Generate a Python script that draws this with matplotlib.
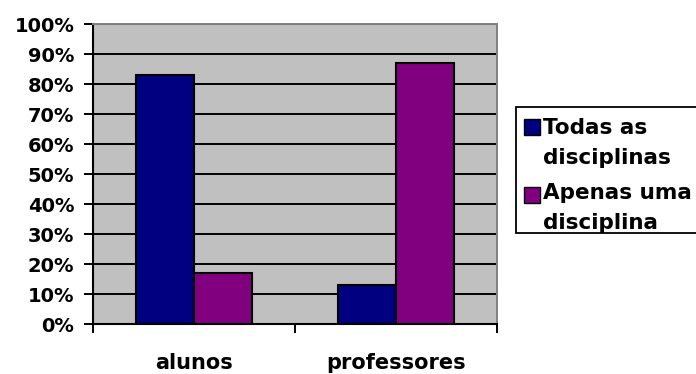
import matplotlib
matplotlib.use("Agg")
import matplotlib.pyplot as plt
from matplotlib.patches import Rectangle
from matplotlib.ticker import FuncFormatter, FixedLocator
import numpy as np

# Data
categories = ["alunos", "professores"]
series_names = ["Todas as\ndisciplinas", "Apenas uma\ndisciplina"]
todas_as_disciplinas = [83, 13]
apenas_uma_disciplina = [17, 87]
y_ticks = list(range(0, 101, 10))

series_values = [todas_as_disciplinas, apenas_uma_disciplina]
colors = ["#000080", "#800080"]

plt.rcParams["font.family"] = ["DejaVu Sans"]
plt.rcParams["font.weight"] = "bold"

W, H = 696, 374
fig = plt.figure(figsize=(W / 100, H / 100), dpi=100)
fig.patch.set_facecolor("white")


def fx(px):
    return px / W


def fy(py):
    return 1 - py / H


ax = fig.add_axes([fx(93), fy(324), fx(497) - fx(93), fy(24) - fy(324)])
ax.set_facecolor("#C0C0C0")

x = np.arange(len(categories))
width = 1 / 3.5
n = len(series_values)
for i, (vals, col) in enumerate(zip(series_values, colors)):
    ax.bar(x + (i - (n - 1) / 2) * width, vals, width, color=col,
           edgecolor="black", linewidth=1.5, zorder=3)

ax.set_xlim(-0.5, len(categories) - 0.5)
ax.set_ylim(0, 100)

# y axis
ax.set_yticks(y_ticks)
ax.yaxis.set_major_formatter(FuncFormatter(lambda v, p: f"{int(v)}%"))
ax.set_axisbelow(True)
ax.yaxis.grid(True, color="black", linewidth=1.4)
ax.tick_params(axis="y", direction="out", length=6.5, width=1.4,
               labelsize=14, pad=7, color="black")

# x axis: labels at centres, tick marks at category boundaries
ax.set_xticks(x)
ax.set_xticklabels(categories)
ax.xaxis.set_minor_locator(FixedLocator(np.arange(-0.5, len(categories), 1.0)))
ax.tick_params(axis="x", which="major", length=0, labelsize=15, pad=21)
ax.tick_params(axis="x", which="minor", direction="out", length=6.5, width=1.4,
               color="black")
for lbl in ax.get_xticklabels() + ax.get_yticklabels():
    lbl.set_fontweight("bold")

for side in ("left", "bottom"):
    ax.spines[side].set_color("black")
    ax.spines[side].set_linewidth(1.5)
for side in ("top", "right"):
    ax.spines[side].set_color("#808080")
    ax.spines[side].set_linewidth(1.4)

# Legend box
fig.add_artist(Rectangle((fx(516), fy(233)), fx(720) - fx(516), fy(107) - fy(233),
                         transform=fig.transFigure, facecolor="white",
                         edgecolor="black", linewidth=1.3))
entry_tops = [119, 184]
square_tops = [119, 187]
for name, col, top, sq in zip(series_names, colors, entry_tops, square_tops):
    fig.add_artist(Rectangle((fx(524), fy(sq + 16)), fx(16) - fx(0), fy(0) - fy(16),
                             transform=fig.transFigure, facecolor=col,
                             edgecolor="black", linewidth=1.0))
    fig.text(fx(543), fy(top - 1), name, ha="left", va="top", fontsize=15.5,
             fontweight="bold", linespacing=1.6)

fig.savefig("out.png", dpi=100)
